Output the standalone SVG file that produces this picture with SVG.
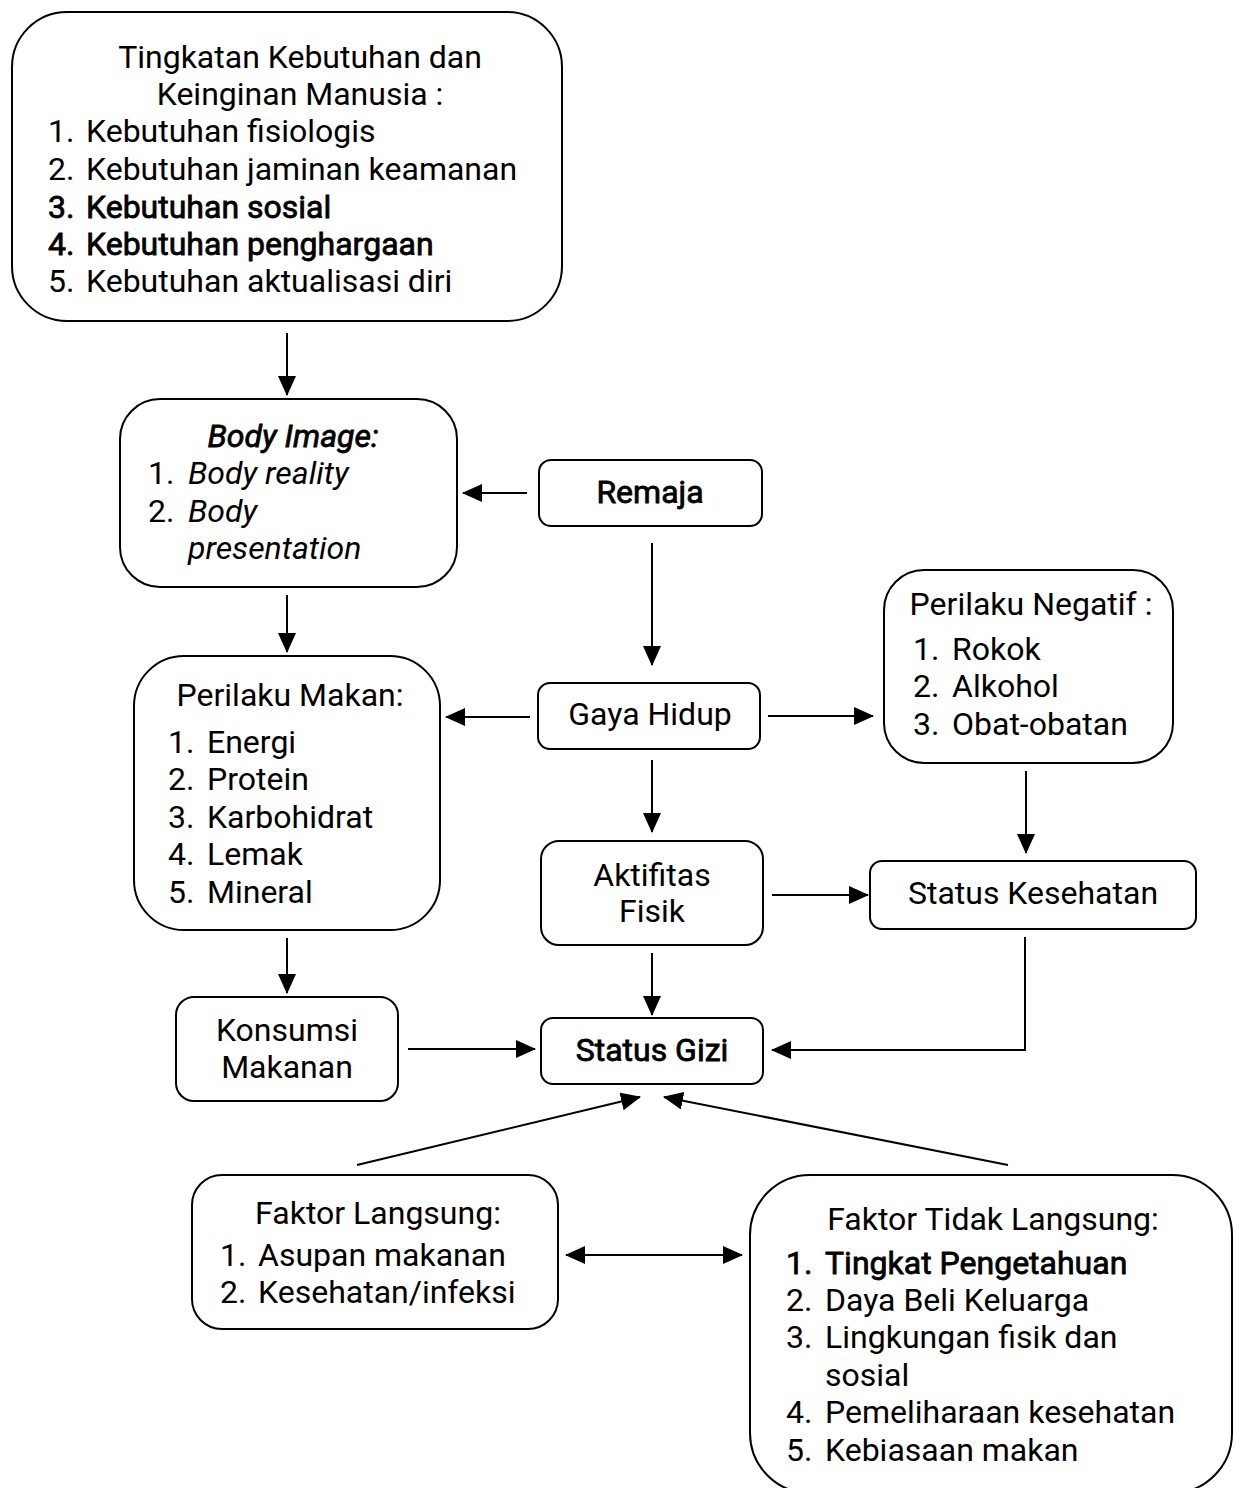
<svg xmlns="http://www.w3.org/2000/svg" width="1236" height="1488" viewBox="0 0 1236 1488">
<style>
.box{fill:#fff;stroke:#000;stroke-width:2}
text{font-family:Roboto,"Liberation Sans",sans-serif;font-size:32px;fill:#000}
.c{text-anchor:middle}
.b{font-weight:bold}
.m{stroke:#000;stroke-width:0.8}
.i{font-style:italic}
.conn path{fill:none;stroke:#000;stroke-width:2}
</style>
<defs>
<marker id="ah" markerUnits="userSpaceOnUse" markerWidth="20" markerHeight="18" refX="19" refY="9" orient="auto-start-reverse" viewBox="0 0 20 18">
<path d="M0,0 L20,9 L0,18 z" fill="#000"/>
</marker>
</defs>
<rect width="1236" height="1488" fill="#fff"/>
<g id="kebutuhan">
<rect class="box" x="12" y="12" width="550" height="309" rx="55"/>
<text class="c" x="300" y="68">Tingkatan Kebutuhan dan</text>
<text class="c" x="300" y="105">Keinginan Manusia :</text>
<text x="48" y="142">1.</text><text x="86" y="142">Kebutuhan fisiologis</text>
<text x="48" y="180">2.</text><text x="86" y="180">Kebutuhan jaminan keamanan</text>
<text class="m" x="48" y="218">3.</text><text class="m" x="86" y="218">Kebutuhan sosial</text>
<text class="m" x="48" y="255">4.</text><text class="m" x="86" y="255">Kebutuhan penghargaan</text>
<text x="48" y="292">5.</text><text x="86" y="292">Kebutuhan aktualisasi diri</text>
</g>
<g id="body-image">
<rect class="box" x="120" y="399" width="337" height="188" rx="40"/>
<text class="c i m" x="293" y="447">Body Image:</text>
<text x="148" y="484">1.</text><text class="i" x="188" y="484">Body reality</text>
<text x="148" y="522">2.</text><text class="i" x="188" y="522">Body</text>
<text class="i" x="188" y="559">presentation</text>
</g>
<g id="remaja">
<rect class="box" x="539" y="460" width="223" height="66" rx="12"/>
<text class="c m" x="650" y="503">Remaja</text>
</g>
<g id="gaya-hidup">
<rect class="box" x="538" y="683" width="222" height="66" rx="12"/>
<text class="c" x="650" y="725">Gaya Hidup</text>
</g>
<g id="perilaku-makan">
<rect class="box" x="134" y="656" width="306" height="274" rx="50"/>
<text class="c" x="290" y="706">Perilaku Makan:</text>
<text x="168" y="753">1.</text><text x="207" y="753">Energi</text>
<text x="168" y="790">2.</text><text x="207" y="790">Protein</text>
<text x="168" y="828">3.</text><text x="207" y="828">Karbohidrat</text>
<text x="168" y="865">4.</text><text x="207" y="865">Lemak</text>
<text x="168" y="903">5.</text><text x="207" y="903">Mineral</text>
</g>
<g id="perilaku-negatif">
<rect class="box" x="884" y="570" width="289" height="193" rx="40"/>
<text class="c" x="1031" y="615">Perilaku Negatif :</text>
<text x="913" y="660">1.</text><text x="952" y="660">Rokok</text>
<text x="913" y="697">2.</text><text x="952" y="697">Alkohol</text>
<text x="913" y="735">3.</text><text x="952" y="735">Obat-obatan</text>
</g>
<g id="aktifitas-fisik">
<rect class="box" x="541" y="841" width="222" height="104" rx="18"/>
<text class="c" x="652" y="886">Aktifitas</text>
<text class="c" x="652" y="922">Fisik</text>
</g>
<g id="status-kesehatan">
<rect class="box" x="870" y="861" width="326" height="68" rx="12"/>
<text class="c" x="1033" y="904">Status Kesehatan</text>
</g>
<g id="konsumsi-makanan">
<rect class="box" x="176" y="997" width="222" height="104" rx="18"/>
<text class="c" x="287" y="1041">Konsumsi</text>
<text class="c" x="287" y="1078">Makanan</text>
</g>
<g id="status-gizi">
<rect class="box" x="541" y="1018" width="222" height="66" rx="12"/>
<text class="c m" x="652" y="1061">Status Gizi</text>
</g>
<g id="faktor-langsung">
<rect class="box" x="192" y="1175" width="366" height="154" rx="30"/>
<text class="c" x="378" y="1224">Faktor Langsung:</text>
<text x="220" y="1266">1.</text><text x="258" y="1266">Asupan makanan</text>
<text x="220" y="1303">2.</text><text x="258" y="1303">Kesehatan/infeksi</text>
</g>
<g id="faktor-tidak-langsung">
<rect class="box" x="750" y="1175" width="482" height="318" rx="60"/>
<text class="c" x="993" y="1230">Faktor Tidak Langsung:</text>
<text class="m" x="786" y="1274">1.</text><text class="m" x="825" y="1274">Tingkat Pengetahuan</text>
<text x="786" y="1311">2.</text><text x="825" y="1311">Daya Beli Keluarga</text>
<text x="786" y="1348">3.</text><text x="825" y="1348">Lingkungan fisik dan</text>
<text x="825" y="1386">sosial</text>
<text x="786" y="1423">4.</text><text x="825" y="1423">Pemeliharaan kesehatan</text>
<text x="786" y="1461">5.</text><text x="825" y="1461">Kebiasaan makan</text>
</g>
<g id="connectors" class="conn">
<path d="M287,333 V395" marker-end="url(#ah)"/>
<path d="M527,493 H463" marker-end="url(#ah)"/>
<path d="M652,543 V665" marker-end="url(#ah)"/>
<path d="M287,595 V652" marker-end="url(#ah)"/>
<path d="M530,717 H446" marker-end="url(#ah)"/>
<path d="M768,716 H873" marker-end="url(#ah)"/>
<path d="M652,760 V832" marker-end="url(#ah)"/>
<path d="M1026,771 V853" marker-end="url(#ah)"/>
<path d="M772,895 H868" marker-end="url(#ah)"/>
<path d="M287,938 V993" marker-end="url(#ah)"/>
<path d="M652,953 V1015" marker-end="url(#ah)"/>
<path d="M408,1049 H535" marker-end="url(#ah)"/>
<path d="M1025,937 V1050 H772" marker-end="url(#ah)"/>
<path d="M357,1165 L640,1097" marker-end="url(#ah)"/>
<path d="M1008,1165 L664,1097" marker-end="url(#ah)"/>
<path d="M566,1255 H742" marker-start="url(#ah)" marker-end="url(#ah)"/>
</g>
</svg>
